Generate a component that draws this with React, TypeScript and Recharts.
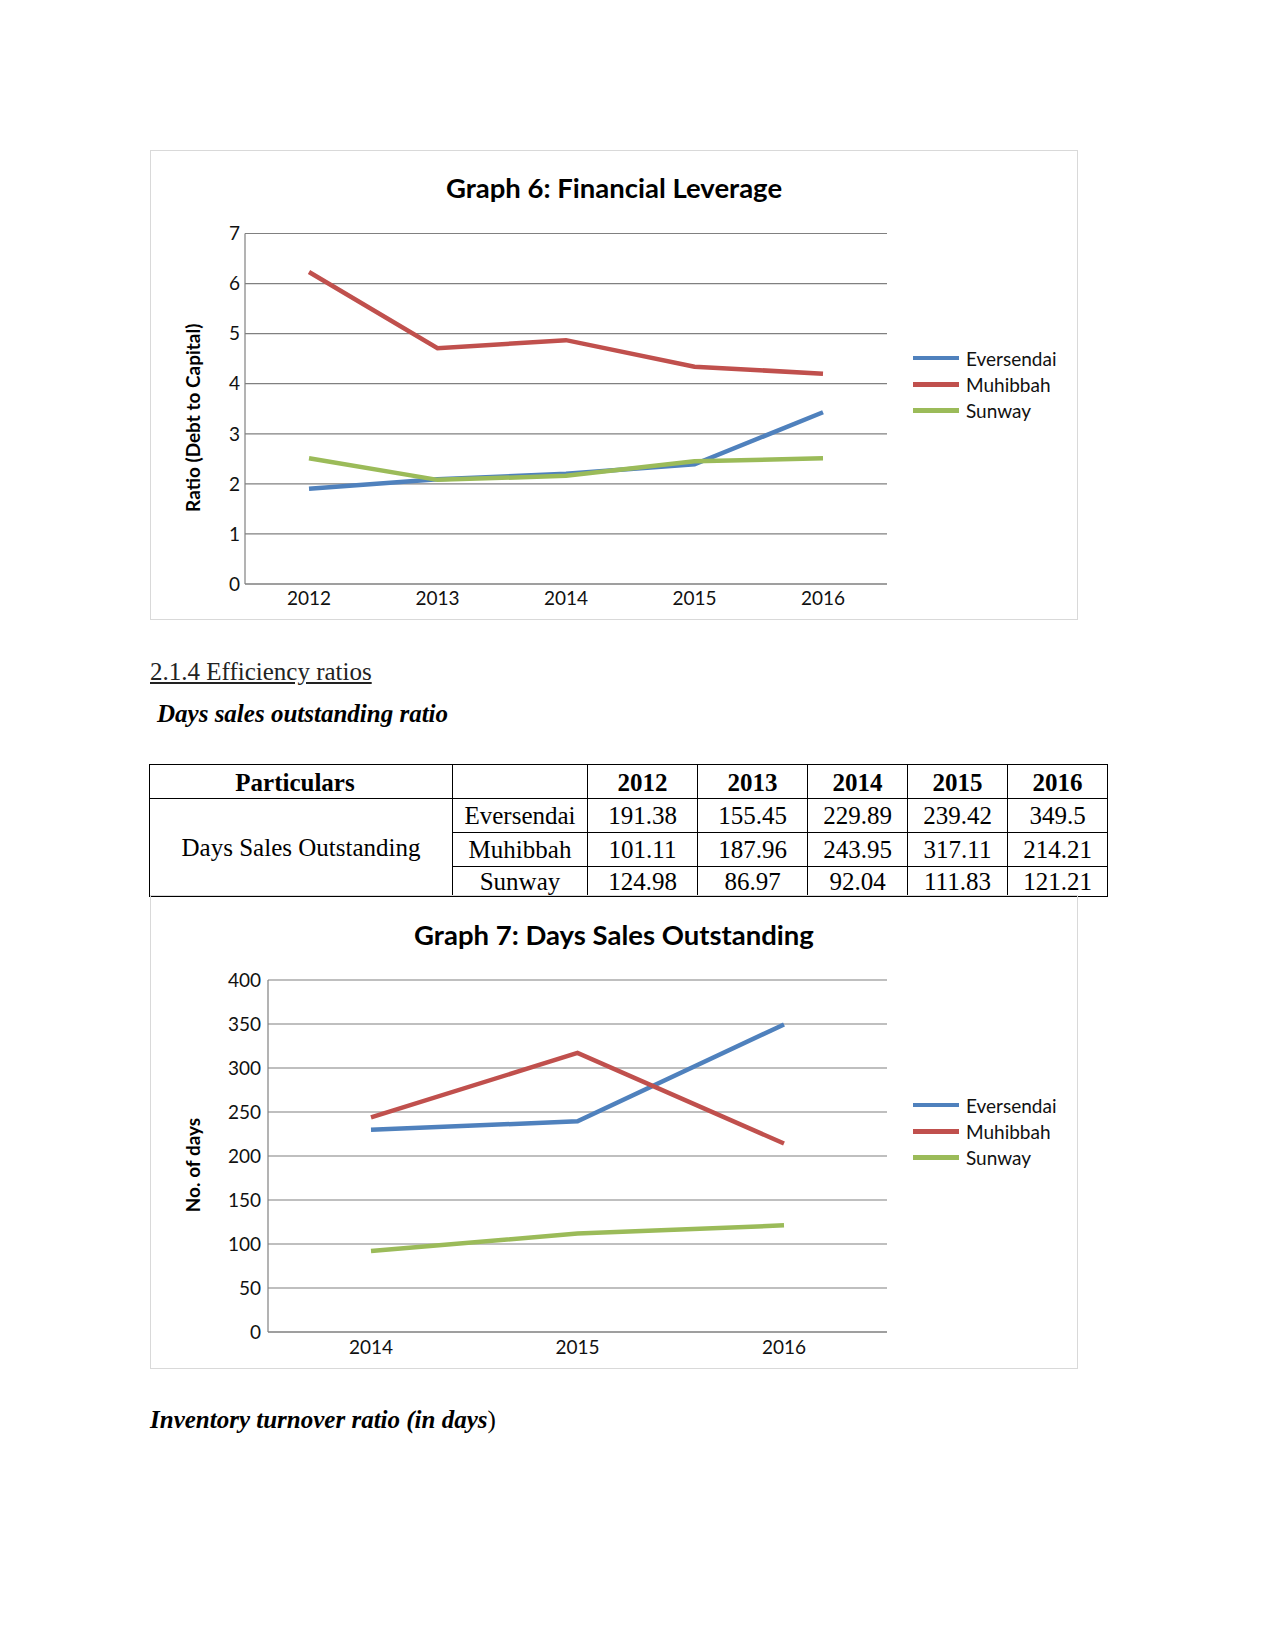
import React from "react";
import { LineChart, Line, XAxis, YAxis, CartesianGrid, Legend } from "recharts";

const SANS = "Lato, Carlito, 'Noto Sans', sans-serif";
const SERIF = "'Liberation Serif', 'Times New Roman', serif";
const GRID = "#808080";

const COMPANIES = ["Eversendai", "Muhibbah", "Sunway"];
const COLORS = ["#4F81BD", "#C0504D", "#9BBB59"];

// Graph 6: Financial Leverage
const LEV_YEARS = ["2012", "2013", "2014", "2015", "2016"];
const LEV_EVERSENDAI = [1.9, 2.09, 2.2, 2.39, 3.43];
const LEV_MUHIBBAH = [6.23, 4.71, 4.87, 4.34, 4.2];
const LEV_SUNWAY = [2.51, 2.08, 2.16, 2.45, 2.51];
const LEV_TICKS = [0, 1, 2, 3, 4, 5, 6, 7];

// Days sales outstanding table
const DSO_YEARS = ["2012", "2013", "2014", "2015", "2016"];
const DSO_EVERSENDAI = [191.38, 155.45, 229.89, 239.42, 349.5];
const DSO_MUHIBBAH = [101.11, 187.96, 243.95, 317.11, 214.21];
const DSO_SUNWAY = [124.98, 86.97, 92.04, 111.83, 121.21];

// Graph 7 only shows the last three years
const DSO_CHART_YEARS = ["2014", "2015", "2016"];
const DSO_TICKS = [0, 50, 100, 150, 200, 250, 300, 350, 400];

const levData = LEV_YEARS.map((year, i) => ({
  year,
  Eversendai: LEV_EVERSENDAI[i],
  Muhibbah: LEV_MUHIBBAH[i],
  Sunway: LEV_SUNWAY[i],
}));

const dsoRows = [DSO_EVERSENDAI, DSO_MUHIBBAH, DSO_SUNWAY];

const dsoData = DSO_CHART_YEARS.map((year) => {
  const i = DSO_YEARS.indexOf(year);
  return {
    year,
    Eversendai: DSO_EVERSENDAI[i],
    Muhibbah: DSO_MUHIBBAH[i],
    Sunway: DSO_SUNWAY[i],
  };
});

// eslint-disable-next-line @typescript-eslint/no-explicit-any
function LegendBox(props: any) {
  const payload = props.payload || [];
  return (
    <div>
      {/* eslint-disable-next-line @typescript-eslint/no-explicit-any */}
      {payload.map((p: any) => (
        <div key={p.value} style={{ display: "flex", alignItems: "center", height: 26.3 }}>
          <span style={{ display: "inline-block", width: 46, height: 4.5, background: p.color, marginRight: 7 }} />
          <span style={{ fontFamily: SANS, fontSize: 19, color: "#111", lineHeight: 1 }}>{p.value}</span>
        </div>
      ))}
    </div>
  );
}

const yTitle = (text: string) =>
  // eslint-disable-next-line @typescript-eslint/no-explicit-any
  (props: any) => {
    const vb = props.viewBox || { x: 0, y: 0, height: 0 };
    const cx = (vb.x || 0) + 42.5;
    const cy = vb.y + vb.height / 2 + 9;
    return (
      <text
        x={cx}
        y={cy}
        transform={`rotate(-90 ${cx} ${cy})`}
        textAnchor="middle"
        dominantBaseline="central"
        fontFamily={SANS}
        fontWeight="bold"
        fontSize={19}
        fill="#000"
      >
        {text}
      </text>
    );
  };

const tickStyle = { fontSize: 19, fill: "#111", fontFamily: SANS };

function ChartTitle({ text, top }: { text: string; top: number }) {
  return (
    <div
      style={{
        position: "absolute", left: 0, width: "100%", top, textAlign: "center",
        fontFamily: SANS, fontWeight: "bold", fontSize: 27.5, lineHeight: "32px", color: "#000",
      }}
    >
      {text}
    </div>
  );
}

function LeverageChart() {
  return (
    <div style={{ position: "absolute", left: 150, top: 150, width: 928, height: 470, outline: "1px solid #d9d9d9", outlineOffset: -1 }}>
      <ChartTitle text="Graph 6: Financial Leverage" top={22} />
      <LineChart width={928} height={470} data={levData} margin={{ top: 83.5, right: 191, bottom: 0, left: 0 }}>
        <CartesianGrid vertical={false} stroke={GRID} strokeWidth={1.2} />
        <XAxis dataKey="year" padding={{ left: 64, right: 64 }} height={36} tickLine={false} tickSize={0} tickMargin={8}
          axisLine={{ stroke: GRID, strokeWidth: 1.2 }} tick={tickStyle} interval={0} />
        <YAxis type="number" domain={[0, 7]} ticks={LEV_TICKS} interval={0} width={95} tickLine={false} tickSize={0} tickMargin={5}
          axisLine={{ stroke: GRID, strokeWidth: 1.2 }} tick={tickStyle} label={yTitle("Ratio (Debt to Capital)")} />
        <Legend layout="horizontal" verticalAlign="middle" align="center" content={LegendBox}
          wrapperStyle={{ left: 763, top: 195, width: 160, height: 80 }} />
        {COMPANIES.map((c, i) => (
          <Line key={c} type="linear" dataKey={c} stroke={COLORS[i]} strokeWidth={4.5} dot={false} isAnimationActive={false} />
        ))}
      </LineChart>
    </div>
  );
}

function DsoChart() {
  return (
    <div style={{ position: "absolute", left: 150, top: 895, width: 928, height: 474, outline: "1px solid #d9d9d9", outlineOffset: -1 }}>
      <ChartTitle text="Graph 7: Days Sales Outstanding" top={24} />
      <LineChart width={928} height={474} data={dsoData} margin={{ top: 85, right: 191, bottom: 0, left: 0 }}>
        <CartesianGrid vertical={false} stroke={GRID} strokeWidth={1.2} />
        <XAxis dataKey="year" padding={{ left: 103, right: 103 }} height={37} tickLine={false} tickSize={0} tickMargin={9}
          axisLine={{ stroke: GRID, strokeWidth: 1.2 }} tick={tickStyle} interval={0} />
        <YAxis type="number" domain={[0, 400]} ticks={DSO_TICKS} interval={0} width={118} tickLine={false} tickSize={0} tickMargin={7}
          axisLine={{ stroke: GRID, strokeWidth: 1.2 }} tick={tickStyle} label={yTitle("No. of days")} />
        <Legend layout="horizontal" verticalAlign="middle" align="center" content={LegendBox}
          wrapperStyle={{ left: 763, top: 197, width: 160, height: 80 }} />
        {COMPANIES.map((c, i) => (
          <Line key={c} type="linear" dataKey={c} stroke={COLORS[i]} strokeWidth={4.5} dot={false} isAnimationActive={false} />
        ))}
      </LineChart>
    </div>
  );
}

const cell: React.CSSProperties = {
  border: "1px solid #000", padding: 0, textAlign: "center", verticalAlign: "middle",
  fontFamily: SERIF, fontSize: 25, lineHeight: "28px", color: "#000",
};

function DsoTable() {
  const colW = [303, 135, 110, 110, 100, 100, 100];
  const rowH = [34, 34, 34, 30];
  return (
    <table style={{ position: "absolute", left: 149, top: 764, borderCollapse: "collapse", tableLayout: "fixed", width: 959 }}>
      <colgroup>
        {colW.map((w, i) => <col key={i} style={{ width: w }} />)}
      </colgroup>
      <tbody>
        <tr style={{ height: rowH[0] }}>
          <td style={{ ...cell, fontWeight: "bold", paddingRight: 12, paddingTop: 3 }}>Particulars</td>
          <td style={cell}></td>
          {DSO_YEARS.map((y) => <td key={y} style={{ ...cell, fontWeight: "bold", paddingTop: 3 }}>{y}</td>)}
        </tr>
        {COMPANIES.map((c, r) => (
          <tr key={c} style={{ height: rowH[r + 1] }}>
            {r === 0 && <td rowSpan={3} style={cell}>Days Sales Outstanding</td>}
            <td style={cell}>{c}</td>
            {dsoRows[r].map((v, i) => <td key={i} style={cell}>{String(v)}</td>)}
          </tr>
        ))}
      </tbody>
    </table>
  );
}

const text = (top: number, left: number): React.CSSProperties => ({
  position: "absolute", top, left, fontFamily: SERIF, fontSize: 25, lineHeight: "30px", color: "#000", whiteSpace: "nowrap",
});

export default function App() {
  return (
    <div style={{ position: "absolute", left: 0, top: 0, width: 1275, height: 1650, background: "#fff", overflow: "hidden" }}>
      <LeverageChart />
      <div style={{ ...text(657, 150), textDecoration: "underline", color: "#222" }}>2.1.4 Efficiency ratios</div>
      <div style={{ ...text(699, 157), fontWeight: "bold", fontStyle: "italic" }}>Days sales outstanding ratio</div>
      <DsoTable />
      <DsoChart />
      <div style={{ ...text(1405, 150), fontWeight: "bold", fontStyle: "italic" }}>
        Inventory turnover ratio (in days<span style={{ fontWeight: "normal", fontStyle: "normal" }}>)</span>
      </div>
    </div>
  );
}
